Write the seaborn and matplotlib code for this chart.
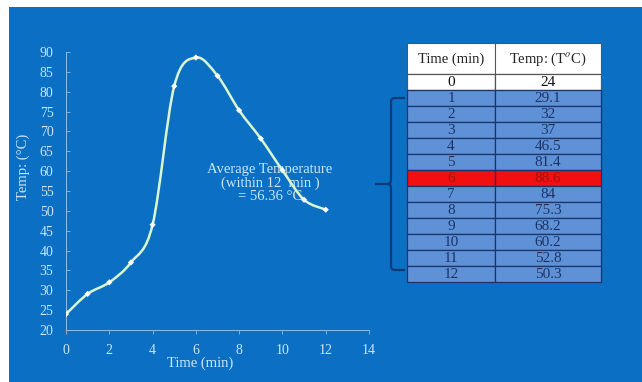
import numpy as np
import seaborn as sns
import matplotlib
matplotlib.use("Agg")
import matplotlib.pyplot as plt
from matplotlib.path import Path
from matplotlib.patches import PathPatch, Rectangle

time_min = [0, 1, 2, 3, 4, 5, 6, 7, 8, 9, 10, 11, 12]
temp_c = [24, 29.1, 32, 37, 46.5, 81.4, 88.6, 84, 75.3, 68.2, 60.2, 52.8, 50.3]
header = ["Time (min)", "Temp: (T$^{o}$C)"]
peak_row = 6
note = "Average Temperature\n(within 12  min )\n= 56.36 \u00b0C"

BG = "#0B6FC3"
LIGHT = "#CDE6F7"
CELL = "#5F91D7"
GRID = "#1B3468"

sns.set_theme(style="ticks")
plt.rcParams["font.family"] = ["Liberation Serif", "DejaVu Serif"]
plt.rcParams["mathtext.fontset"] = "stix"


def smooth_path(x, y):
    """Excel-like smoothed line: cubic bezier through every point"""
    pts = np.column_stack([x, y]).astype(float)
    n = len(pts)
    verts = [pts[0]]
    codes = [Path.MOVETO]
    for i in range(n - 1):
        p0 = pts[max(i - 1, 0)]
        p1 = pts[i]
        p2 = pts[i + 1]
        p3 = pts[min(i + 2, n - 1)]
        verts += [p1 + (p2 - p0) / 6, p2 - (p3 - p1) / 6, p2]
        codes += [Path.CURVE4] * 3
    return Path(verts, codes)


W, H = 642, 382
fig = plt.figure(figsize=(W / 100, H / 100), dpi=100)
fig.patch.set_facecolor("white")
fig.patches.append(Rectangle((9 / W, 0), 1, (H - 7) / H, transform=fig.transFigure,
                             facecolor=BG, edgecolor="none", zorder=-10))

# ---- line chart
ax = fig.add_axes([66 / W, (H - 330) / H, 303 / W, 278 / H])
ax.set_facecolor("none")
ax.add_patch(PathPatch(smooth_path(time_min, temp_c), facecolor="none",
                       edgecolor="#D9F7CF", lw=1.8, zorder=3))
sns.scatterplot(x=time_min, y=temp_c, marker="D", s=10, color="white",
                edgecolor="none", zorder=4, ax=ax)
ax.set_xlim(0, 14)
ax.set_ylim(20, 90)
ax.set_xticks(range(0, 15, 2))
ax.set_yticks(range(20, 91, 5))
for s in ["top", "right"]:
    ax.spines[s].set_visible(False)
for s in ["left", "bottom"]:
    ax.spines[s].set_color("#8FBFE6")
    ax.spines[s].set_linewidth(0.7)
ax.tick_params(axis="x", colors="#8FBFE6", labelcolor=LIGHT, labelsize=10,
               length=3, width=0.6, pad=7)
ax.tick_params(axis="y", colors="#8FBFE6", labelcolor=LIGHT, labelsize=10,
               length=3, width=0.6, direction="in", pad=9)
ax.set_xlabel("Time (min)", color=LIGHT, fontsize=10.5)
ax.xaxis.set_label_coords(0.442, -0.095)
ax.set_ylabel("Temp: (\u00b0C)", color=LIGHT, fontsize=10.5)
ax.yaxis.set_label_coords(-0.118, 0.586)
ax.text(9.43, 57.0, note, ha="center", va="center", color=LIGHT,
        fontsize=10.5, linespacing=1.0, zorder=1)

# ---- table + bracket in pixel coordinates
ov = fig.add_axes([0, 0, 1, 1])
ov.set_xlim(0, W)
ov.set_ylim(H, 0)
ov.axis("off")
ov.set_facecolor("none")

col_x = [407, 495, 601]
head_top, head_bot, row_h = 43, 74, 16

ov.add_patch(Rectangle((col_x[0], head_top), col_x[2] - col_x[0], head_bot - head_top,
                       facecolor="white", edgecolor="#555555", lw=0.8))
for j, txt in enumerate(header):
    ov.text((col_x[j] + col_x[j + 1]) / 2, (head_top + head_bot) / 2 + 1, txt,
            ha="center", va="center", fontsize=10.5, color="#222222")
ov.plot([col_x[1], col_x[1]], [head_top, head_bot], color="#555555", lw=0.8)

for i, (t, v) in enumerate(zip(time_min, temp_c)):
    y0 = head_bot + i * row_h
    if i == 0:
        fc, tc, ec = "white", "#111111", "#555555"
    elif i == peak_row:
        fc, tc, ec = "#F20F0F", "#A01212", GRID
    else:
        fc, tc, ec = CELL, GRID, GRID
    for j, txt in enumerate([str(t), f"{v:g}"]):
        ov.add_patch(Rectangle((col_x[j], y0), col_x[j + 1] - col_x[j], row_h,
                               facecolor=fc, edgecolor=ec, lw=0.9))
        ov.text((col_x[j] + col_x[j + 1]) / 2, y0 + row_h / 2 + 0.5, txt,
                ha="center", va="center", fontsize=11, color=tc)

# curly bracket grouping rows 1..12
bx, btop, bbot, bmid, r = 391, 98, 270, 184, 4
verts = [(405, btop), (bx + r, btop), (bx, btop), (bx, btop + r),
         (bx, bmid - r), (bx, bmid), (bx - r, bmid), (375, bmid),
         (bx - r, bmid), (bx, bmid), (bx, bmid + r),
         (bx, bbot - r), (bx, bbot), (bx + r, bbot), (405, bbot)]
codes = [Path.MOVETO, Path.LINETO, Path.CURVE3, Path.CURVE3,
         Path.LINETO, Path.CURVE3, Path.CURVE3, Path.LINETO,
         Path.MOVETO, Path.CURVE3, Path.CURVE3,
         Path.LINETO, Path.CURVE3, Path.CURVE3, Path.LINETO]
ov.add_patch(PathPatch(Path(verts, codes), facecolor="none", edgecolor="#0E3A78", lw=1.6))

fig.savefig("out.png", dpi=100, facecolor=fig.get_facecolor())
